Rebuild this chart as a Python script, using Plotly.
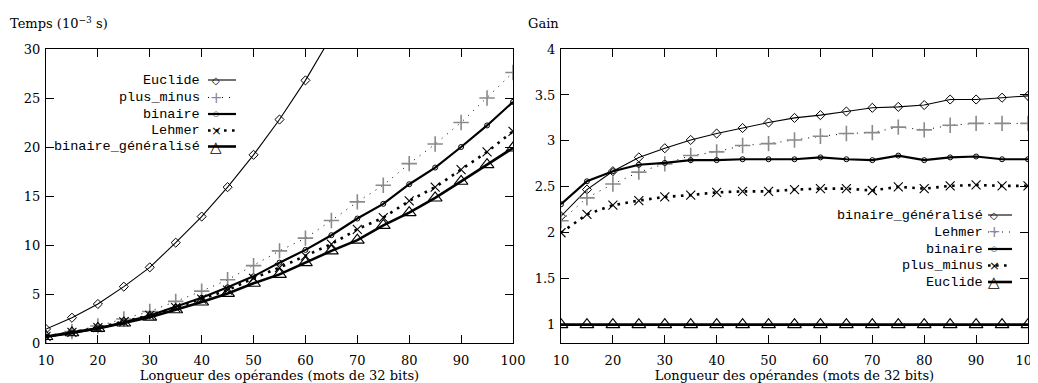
import plotly.graph_objects as go

# ---------------- data ----------------
longueur = [10, 15, 20, 25, 30, 35, 40, 45, 50, 55, 60, 65, 70, 75, 80, 85, 90, 95, 100]
longueur_euclide = [10, 15, 20, 25, 30, 35, 40, 45, 50, 55, 60, 65, 70]

t_euclide = [1.43, 2.58, 3.98, 5.75, 7.72, 10.24, 12.9, 15.9, 19.2, 22.8, 26.8, 31.2, 35.8]
t_plus_minus = [0.72, 1.17, 1.73, 2.45, 3.22, 4.25, 5.29, 6.45, 7.9, 9.4, 10.7, 12.5, 14.4, 16.1, 18.3, 20.3, 22.5, 25.0, 27.6]
t_binaire = [0.62, 1.01, 1.49, 2.10, 2.80, 3.67, 4.62, 5.68, 6.8, 8.2, 9.5, 11.0, 12.7, 14.2, 16.2, 17.9, 20.0, 22.2, 24.6]
t_lehmer = [0.67, 1.08, 1.57, 2.16, 2.81, 3.61, 4.48, 5.39, 6.6, 7.7, 8.9, 10.1, 11.6, 12.8, 14.5, 15.9, 17.7, 19.5, 21.6]
t_bin_gen = [0.66, 1.04, 1.49, 2.04, 2.64, 3.40, 4.19, 5.06, 6.1, 7.0, 8.2, 9.4, 10.5, 12.0, 13.3, 14.8, 16.5, 18.2, 19.9]

g_bin_gen = [2.18, 2.47, 2.67, 2.82, 2.92, 3.01, 3.08, 3.14, 3.20, 3.25, 3.28, 3.32, 3.36, 3.37, 3.39, 3.45, 3.45, 3.47, 3.49]
g_lehmer = [2.13, 2.38, 2.53, 2.66, 2.75, 2.84, 2.88, 2.95, 2.97, 3.01, 3.05, 3.08, 3.09, 3.15, 3.12, 3.17, 3.19, 3.19, 3.19]
g_binaire = [2.31, 2.56, 2.67, 2.74, 2.76, 2.79, 2.79, 2.80, 2.80, 2.80, 2.82, 2.80, 2.79, 2.84, 2.79, 2.82, 2.83, 2.80, 2.80]
g_plus_minus = [2.00, 2.20, 2.30, 2.35, 2.39, 2.41, 2.44, 2.45, 2.45, 2.47, 2.48, 2.48, 2.46, 2.50, 2.48, 2.51, 2.52, 2.51, 2.51]
g_euclide = [1.0, 1.0, 1.0, 1.0, 1.0, 1.0, 1.0, 1.0, 1.0, 1.0, 1.0, 1.0, 1.0, 1.0, 1.0, 1.0, 1.0, 1.0, 1.0]

x_ticks = [10, 20, 30, 40, 50, 60, 70, 80, 90, 100]
temps_ticks = [0, 5, 10, 15, 20, 25, 30]
gain_ticks = [1, 1.5, 2, 2.5, 3, 3.5, 4]

labels_temps = ["Euclide", "plus_minus", "binaire", "Lehmer", "binaire_généralisé"]
labels_gain = ["binaire_généralisé", "Lehmer", "binaire", "plus_minus", "Euclide"]

# ---------------- styles (gnuplot-like, in order) ----------------
GRAY = "#8a8a8a"
styles = [
    dict(line=dict(color="black", width=1.1),
         marker=dict(symbol="diamond-open", size=7, color="black", line=dict(width=1))),
    dict(line=dict(color="black", width=1, dash="1px,6px"),
         marker=dict(symbol="cross-thin-open", size=11, color=GRAY, line=dict(width=1.6, color=GRAY))),
    dict(line=dict(color="black", width=2.2),
         marker=dict(symbol="circle-open", size=5, color="black", line=dict(width=1))),
    dict(line=dict(color="black", width=2.6, dash="2.6px,5.4px"),
         marker=dict(symbol="x-thin-open", size=9, color="black", line=dict(width=1.1, color="black"))),
    dict(line=dict(color="black", width=2.6),
         marker=dict(symbol="triangle-up-open", size=12, color="black", line=dict(width=1.1))),
]
glyphs = ["◇", "+", "○", "×", "△"]
glyph_sizes = [10, 15, 7, 13, 15]
glyph_colors = ["black", GRAY, "black", "black", "black"]

fig = go.Figure()

temps_series = [
    (longueur_euclide, t_euclide),
    (longueur, t_plus_minus),
    (longueur, t_binaire),
    (longueur, t_lehmer),
    (longueur, t_bin_gen),
]
gain_series = [g_bin_gen, g_lehmer, g_binaire, g_plus_minus, g_euclide]

for (xs, ys), st, name in zip(temps_series, styles, labels_temps):
    fig.add_trace(go.Scatter(x=xs, y=ys, mode="lines+markers", name=name,
                             line=st["line"], marker=st["marker"],
                             xaxis="x", yaxis="y", showlegend=False))
for ys, st, name in zip(gain_series, styles, labels_gain):
    fig.add_trace(go.Scatter(x=longueur, y=ys, mode="lines+markers", name=name,
                             line=st["line"], marker=st["marker"],
                             xaxis="x2", yaxis="y2", showlegend=False))

# ---------------- layout ----------------
# the page body adds an 8px offset; figure coordinates are page - 8
OFF = 8
W, H = 1030, 375
L, R, T, B = 38, 10, 41, 40
plot_w = W - L - R
plot_h = H - T - B


def px(page_x):
    return (page_x - OFF - L) / plot_w


def py(page_y):
    return (H - B - (page_y - OFF)) / plot_h


tick_font = dict(family="DejaVu Serif, Liberation Serif, serif", size=13, color="black")
mono = dict(family="Liberation Mono, DejaVu Sans Mono, monospace", size=13.5, color="black")

axis_common = dict(showline=True, linecolor="black", linewidth=1, mirror="ticks",
                   ticks="inside", ticklen=8, tickwidth=1, tickcolor="black",
                   showgrid=False, zeroline=False, tickfont=tick_font, automargin=False,
                   ticklabeloverflow="allow")

x_title = dict(text="Longueur des opérandes (mots de 32 bits)", font=tick_font, standoff=3)

fig.update_layout(
    width=W, height=H,
    margin=dict(l=L, r=R, t=T, b=B),
    paper_bgcolor="white", plot_bgcolor="white",
    xaxis=dict(domain=[0, px(513)], range=[10, 100], tickvals=x_ticks, title=x_title,
               ticklabelstandoff=5, **axis_common),
    yaxis=dict(domain=[0, 1], range=[0, 30], tickvals=temps_ticks, ticklabelstandoff=2, **axis_common),
    xaxis2=dict(domain=[px(561), 1], range=[10, 100], tickvals=x_ticks, anchor="y2", title=x_title,
                ticklabelstandoff=5, **axis_common),
    yaxis2=dict(domain=[0, 1], range=[0.8, 4], tickvals=gain_ticks, anchor="x2",
                tickformat=".1~f", ticklabelstandoff=2, **axis_common),
)

annotations = [
    dict(text="Temps (10<sup>−3</sup> s)", xref="paper", yref="paper", x=px(8), y=py(33),
         xanchor="left", yanchor="bottom", showarrow=False, font=tick_font),
    dict(text="Gain", xref="paper", yref="paper", x=px(526), y=py(33),
         xanchor="left", yanchor="bottom", showarrow=False, font=tick_font),
]
shapes = []


def add_key(labels, text_right, row_y, line_x0, line_x1, mark_x):
    for i, lab in enumerate(labels):
        y = row_y[i]
        annotations.append(dict(text=lab, xref="paper", yref="paper", x=px(text_right), y=py(y),
                                xanchor="right", yanchor="middle", showarrow=False, font=mono))
        st = styles[i]["line"]
        shapes.append(dict(type="line", xref="paper", yref="paper",
                           x0=px(line_x0), x1=px(line_x1), y0=py(y), y1=py(y),
                           line=dict(color="black", width=st["width"], dash=st.get("dash", "solid"))))
        annotations.append(dict(text=glyphs[i], xref="paper", yref="paper", x=px(mark_x), y=py(y),
                                xanchor="center", yanchor="middle", showarrow=False,
                                font=dict(family="DejaVu Sans", size=glyph_sizes[i], color=glyph_colors[i])))


add_key(labels_temps, 202, [80, 97.5, 114, 130.5, 146.5], 208, 236, 216)
add_key(labels_gain, 985, [215, 232, 249, 265.5, 282], 988, 1012, 994)

fig.update_layout(annotations=annotations, shapes=shapes)

fig.write_html("out.html")
